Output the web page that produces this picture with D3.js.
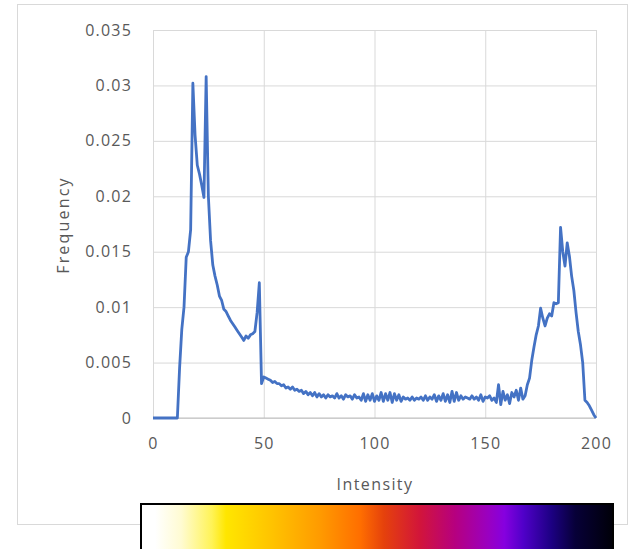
<!DOCTYPE html>
<html>
<head>
<meta charset="utf-8">
<script src="https://cdn.jsdelivr.net/npm/d3@7"></script>
<style>
  html, body { margin: 0; padding: 0; background: #fff; }
  svg { display: block; }
  text { font-family: "Open Sans", sans-serif; fill: #595959; }
</style>
</head>
<body>
<svg id="chart" width="640" height="549"></svg>
<script>
// histogram, one value per intensity 0..200
const intensity = d3.range(0, 201);
const frequency = [
  0, 0, 0, 0, 0, 0, 0, 0, 0, 0,
  0, 0, 0.0045, 0.0080, 0.0100, 0.0145, 0.0150, 0.0170, 0.0302, 0.0255,
  0.0228, 0.0220, 0.0210, 0.0199, 0.0308, 0.0200, 0.0160, 0.0138, 0.0128, 0.0120,
  0.0110, 0.0106, 0.0098, 0.0096, 0.0092, 0.0088, 0.0085, 0.0082, 0.0079, 0.0076,
  0.0073, 0.0070, 0.0074, 0.0072, 0.0075, 0.0076, 0.0078, 0.0095, 0.0122, 0.0031,
  0.0037, 0.0036, 0.0035, 0.0034, 0.0032, 0.0033, 0.0031, 0.0031, 0.0029, 0.0030,
  0.0027, 0.0028, 0.0026, 0.0028, 0.0025, 0.0026, 0.0024, 0.0025, 0.0022, 0.0024,
  0.0021, 0.0023, 0.0020, 0.0023, 0.0019, 0.0022, 0.0019, 0.0021, 0.0018, 0.0021,
  0.0019, 0.0020, 0.0018, 0.0022, 0.0018, 0.0020, 0.0017, 0.0021, 0.0019, 0.0020,
  0.0017, 0.0021, 0.0018, 0.0019, 0.0016, 0.0022, 0.0015, 0.0021, 0.0016, 0.0022,
  0.0015, 0.0020, 0.0016, 0.0023, 0.0015, 0.0022, 0.0016, 0.0023, 0.0014, 0.0022,
  0.0016, 0.0021, 0.0015, 0.0019, 0.0017, 0.0018, 0.0016, 0.0019, 0.0016, 0.0018,
  0.0017, 0.0019, 0.0016, 0.0020, 0.0016, 0.0019, 0.0017, 0.0021, 0.0015, 0.0020,
  0.0016, 0.0022, 0.0015, 0.0021, 0.0014, 0.0024, 0.0015, 0.0023, 0.0016, 0.0020,
  0.0017, 0.0019, 0.0018, 0.0017, 0.0020, 0.0017, 0.0019, 0.0016, 0.0021, 0.0015,
  0.0019, 0.0018, 0.0020, 0.0016, 0.0018, 0.0014, 0.0030, 0.0012, 0.0024, 0.0016,
  0.0021, 0.0013, 0.0023, 0.0019, 0.0025, 0.0016, 0.0027, 0.0017, 0.0020, 0.0030,
  0.0036, 0.0052, 0.0064, 0.0075, 0.0083, 0.0099, 0.0090, 0.0083, 0.0090, 0.0094,
  0.0092, 0.0104, 0.0103, 0.0104, 0.0172, 0.0150, 0.0137, 0.0158, 0.0146, 0.0128,
  0.0115, 0.0095, 0.0078, 0.0066, 0.0050, 0.0016, 0.0014, 0.0011, 0.0007, 0.0003,
  0
];

const xTicks = [0, 50, 100, 150, 200];
const xTickLabels = ["0", "50", "100", "150", "200"];
const yTicks = [0, 0.005, 0.01, 0.015, 0.02, 0.025, 0.03, 0.035];
const yTickLabels = ["0", "0.005", "0.01", "0.015", "0.02", "0.025", "0.03", "0.035"];

// colour bar (reversed "fire" style lut)
const barStops = [0, 0.03, 0.085, 0.15, 0.18, 0.275, 0.38, 0.465, 0.515, 0.59, 0.665, 0.735, 0.77, 0.81, 0.87, 0.92, 1];
const barColors = ["#ffffff", "#ffffff", "#fffbd2", "#fff357", "#ffe600", "#ffc400", "#ff9a00", "#ff6e00",
                   "#e5410c", "#d2153a", "#b6007f", "#9a00c0", "#8600df", "#5000c9", "#1c0082", "#070038", "#000008"];

const svg = d3.select("#chart");

const plotLeft = 153, plotRight = 596, plotTop = 30, plotBottom = 418;

var x = d3.scaleLinear().domain([0, 200]).range([plotLeft, plotRight]),
    y = d3.scaleLinear().domain([0, 0.035]).range([plotBottom, plotTop]);

// outer frame
svg.append("rect")
    .attr("x", 17.5).attr("y", 4.5)
    .attr("width", 610).attr("height", 520)
    .attr("fill", "none")
    .attr("stroke", "#d9d9d9")
    .attr("stroke-width", 1);

// y grid + labels
const gy = svg.append("g")
    .attr("transform", "translate(" + plotLeft + ",0)")
    .call(d3.axisLeft(y)
        .tickValues(yTicks)
        .tickSize(-(plotRight - plotLeft))
        .tickPadding(21)
        .tickFormat((d, i) => yTickLabels[i]));
gy.select(".domain").remove();
gy.selectAll(".tick line").attr("stroke", "#d9d9d9");
gy.selectAll(".tick text")
    .style("font-size", "16px")
    .style("letter-spacing", "1.2px")
    .attr("fill", "#595959");

// x grid + labels
const gx = svg.append("g")
    .attr("transform", "translate(0," + plotBottom + ")")
    .call(d3.axisBottom(x)
        .tickValues(xTicks)
        .tickSize(-(plotBottom - plotTop))
        .tickPadding(20)
        .tickFormat((d, i) => xTickLabels[i]));
gx.select(".domain").remove();
gx.selectAll(".tick line").attr("stroke", "#d9d9d9");
gx.selectAll(".tick text")
    .style("font-size", "16px")
    .style("letter-spacing", "1.2px")
    .attr("fill", "#595959");

// bottom axis line a bit darker
svg.append("line")
    .attr("x1", plotLeft).attr("x2", plotRight)
    .attr("y1", y(0)).attr("y2", y(0))
    .attr("stroke", "#bfbfbf");

// axis titles
svg.append("text")
    .attr("x", 375).attr("y", 490)
    .attr("text-anchor", "middle")
    .style("font-size", "16px")
    .style("letter-spacing", "1.4px")
    .text("Intensity");

svg.append("text")
    .attr("transform", "translate(69,225) rotate(-90)")
    .attr("text-anchor", "middle")
    .style("font-size", "16px")
    .style("letter-spacing", "2.2px")
    .text("Frequency");

// the line
var line = d3.line()
    .x((d, i) => x(intensity[i]))
    .y(d => y(d));

svg.append("path")
    .datum(frequency)
    .attr("d", line)
    .style("fill", "none")
    .style("stroke", "#4472c4")
    .style("stroke-width", "2.8")
    .style("stroke-linejoin", "round");

// colour bar
const defs = svg.append("defs");
const grad = defs.append("linearGradient")
    .attr("id", "lut")
    .attr("x1", "0%").attr("x2", "100%")
    .attr("y1", "0%").attr("y2", "0%");
grad.selectAll("stop")
    .data(barStops)
    .enter().append("stop")
    .attr("offset", d => d * 100 + "%")
    .attr("stop-color", (d, i) => barColors[i]);

svg.append("rect")
    .attr("x", 141).attr("y", 504)
    .attr("width", 472).attr("height", 50)
    .attr("fill", "url(#lut)")
    .attr("stroke", "#000")
    .attr("stroke-width", 2);
</script>
</body>
</html>
